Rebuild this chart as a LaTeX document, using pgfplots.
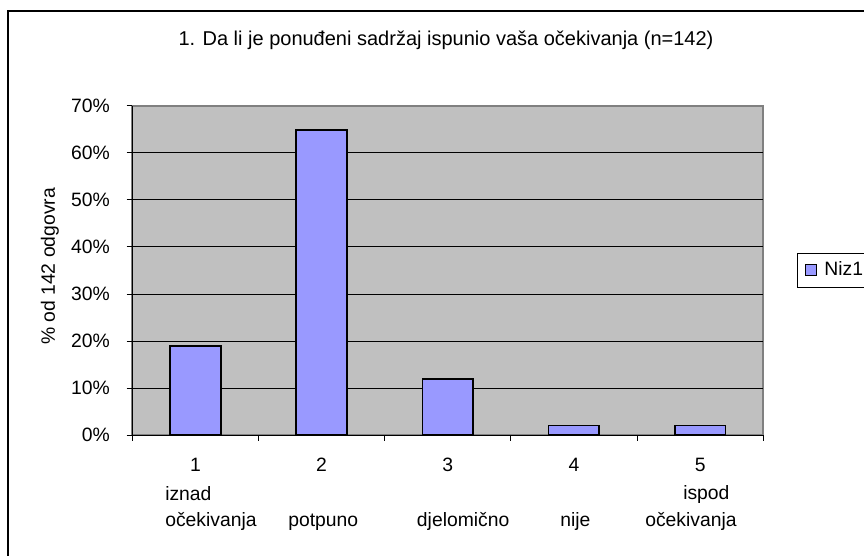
\documentclass[border=0pt]{standalone}
\usepackage{pgfplots}
\pgfplotsset{compat=1.18}
\usepackage{fontspec}
\setmainfont{Liberation Sans}
\definecolor{plotbg}{HTML}{C0C0C0}
\definecolor{barfill}{HTML}{9999FF}
\definecolor{frgray}{HTML}{808080}
\begin{document}
\fontsize{14.5pt}{17pt}\selectfont
\begin{tikzpicture}[x=0.75pt,y=0.75pt]
\path[use as bounding box, clip] (-132.3,-120.7) rectangle (731.7,435.3);
\begin{axis}[
  scale only axis, width=473.25pt, height=247.2pt,
  at={(0,0)}, anchor=south west,
  ybar, bar width=38pt,
  xmin=0.5, xmax=5.5, ymin=0, ymax=70,
  axis x line*=bottom, axis y line*=left,
  axis line style={black, line width=1pt},
  axis background/.style={fill=plotbg, draw=frgray, line width=1.5pt},
  xtick={0.5,1.5,...,5.5}, xticklabels={},
  ytick={0,10,...,70},
  yticklabel={\pgfmathprintnumber{\tick}\%},
  /pgf/number format/assume math mode=true,
  yticklabel style={anchor=east, inner sep=0pt, xshift=-12.5pt},
  tick align=outside, major tick length=4.2pt,
  tick style={black, line width=0.75pt},
  extra y ticks={10,20,...,60}, extra y tick labels={},
  extra y tick style={ymajorgrids=true, major tick length=0pt, grid style={black, line width=0.75pt}},
  extra x ticks={1,2,3,4,5}, extra x tick labels={1,2,3,4,5},
  extra x tick style={major tick length=0pt, xticklabel style={anchor=base, inner sep=0pt, yshift=-27.5pt}},
  legend style={at={(1.0534,0.554)}, anchor=north west, draw=black, line width=0.75pt, inner xsep=6pt, inner ysep=4.5pt, fill=white},
  legend image code/.code={\draw[#1, line width=0.75pt] (0pt,-4pt) rectangle (8pt,4pt);},
]
\addplot[fill=barfill, draw=black, line width=1.25pt] coordinates {(1,19.0) (2,64.8) (3,12.0) (4,2.1) (5,2.1)};
\addlegendentry{\hspace{3.5pt}Niz1}
\end{axis}
\draw[black, line width=1.7pt] (-124.5,-140) rectangle (760,424.1);
\node[anchor=base, font=\fontsize{15pt}{18pt}\selectfont] at (313.7,390) {1. Da li je ponuđeni sadržaj ispunio vaša očekivanja (n=142)};
\node[rotate=90, anchor=base] at (-77.3,168.8) {\% od 142 odgovra};
\begin{scope}[every node/.style={anchor=base west, inner sep=0pt}]
\node at (32.7,-65.7) {iznad};
\node at (32.7,-91.4) {očekivanja};
\node at (155.7,-91.4) {potpuno};
\node at (284.4,-91.4) {djelomično};
\node at (427.7,-91.4) {nije};
\node at (550.7,-64.7) {ispod};
\node at (512.7,-91.4) {očekivanja};
\end{scope}
\end{tikzpicture}
\end{document}
